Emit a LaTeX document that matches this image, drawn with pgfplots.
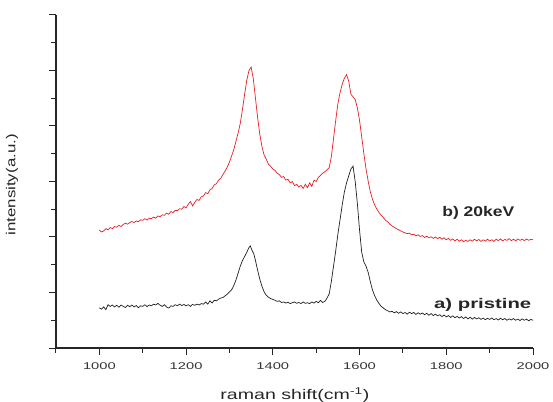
\documentclass[border=0pt]{standalone}
\usepackage{pgfplots}
\pgfplotsset{compat=1.18}
\usepackage{fontspec}
\setmainfont{Liberation Sans}
\usepackage{graphicx}
\definecolor{redline}{RGB}{228,32,36}
\definecolor{blackline}{RGB}{30,30,30}
\begin{document}
\begin{tikzpicture}
\begin{axis}[
  scale only axis, width=477pt, height=333pt,
  xmin=900, xmax=2000, ymin=0, ymax=12,
  axis lines*=left,
  axis line style={line width=1.2pt, black!85},
  every tick/.style={black!85, line width=1pt},
  tick align=outside,
  major tick length=7pt, minor tick length=4.5pt,
  xtick={1000,1200,...,2000},
  minor xtick={900,1100,1300,1500,1700,1900},
  ytick={0,2,...,12}, yticklabels={},
  minor ytick={1,3,...,11},
  /pgf/number format/assume math mode=true,
  /pgf/number format/1000 sep={},
  xticklabel={\scalebox{1.5}[1]{\pgfmathprintnumber{\tick}}},
  xticklabel style={font=\fontsize{9.8}{10}\selectfont, text=black!80, anchor=center, yshift=-11pt},
  xlabel={\scalebox{1.4}[1]{raman shift(cm\textsuperscript{-1})}},
  xlabel style={at={(axis description cs:0.501,0)}, anchor=center, yshift=-47pt, font=\fontsize{14}{15}\selectfont, text=black!85},
  ylabel={\scalebox{1.3}[1]{intensity(a.u.)}},
  ylabel style={at={(axis description cs:-0.0922,0.49)}, anchor=center, font=\fontsize{13}{14}\selectfont, text=black!85},
  clip=false,
]
\addplot[redline, line width=0.7pt] coordinates {
(1000,4.25)(1005,4.18)(1010,4.22)(1015,4.30)(1020,4.26)(1025,4.34)(1030,4.30)(1035,4.38)(1040,4.35)
(1045,4.42)(1050,4.38)(1055,4.45)(1060,4.50)(1065,4.46)(1070,4.52)(1075,4.56)(1080,4.52)(1085,4.58)
(1090,4.55)(1095,4.62)(1100,4.60)(1105,4.66)(1110,4.61)(1115,4.68)(1120,4.66)(1125,4.72)(1130,4.68)
(1135,4.76)(1140,4.73)(1145,4.80)(1150,4.78)(1155,4.86)(1160,4.82)(1165,4.92)(1170,4.88)(1175,4.96)
(1180,4.95)(1185,5.02)(1190,5.00)(1195,5.10)(1200,5.05)(1205,5.18)(1210,5.28)(1215,5.12)(1220,5.25)
(1225,5.35)(1230,5.32)(1235,5.45)(1240,5.48)(1245,5.60)(1250,5.56)(1255,5.70)(1260,5.75)(1265,5.88)
(1270,5.92)(1275,6.05)(1280,6.12)(1285,6.25)(1290,6.38)(1295,6.52)(1300,6.70)(1305,6.92)(1310,7.15)
(1315,7.45)(1320,7.75)(1325,8.10)(1330,8.60)(1335,9.15)(1340,9.65)(1345,10.00)(1350,10.12)(1355,9.70)
(1360,9.00)(1365,8.30)(1370,7.70)(1375,7.25)(1380,6.95)(1385,6.80)(1390,6.62)(1395,6.55)(1400,6.45)
(1405,6.40)(1410,6.30)(1415,6.25)(1420,6.15)(1425,6.18)(1430,6.05)(1435,6.08)(1440,5.95)(1445,6.00)
(1450,5.85)(1455,5.90)(1460,5.80)(1465,5.86)(1470,5.75)(1475,5.90)(1480,5.78)(1485,5.95)(1490,5.82)
(1495,6.05)(1500,6.00)(1505,6.15)(1510,6.22)(1515,6.30)(1520,6.35)(1525,6.42)(1530,6.50)(1535,6.90)
(1540,7.55)(1545,8.20)(1550,8.80)(1555,9.20)(1560,9.50)(1565,9.72)(1570,9.85)(1575,9.62)(1580,9.15)
(1585,9.05)(1590,8.95)(1595,8.65)(1600,8.20)(1605,7.60)(1610,7.00)(1615,6.45)(1620,6.00)(1625,5.62)
(1630,5.35)(1635,5.15)(1640,5.00)(1645,4.88)(1650,4.78)(1655,4.70)(1660,4.60)(1665,4.55)(1670,4.46)
(1675,4.40)(1680,4.35)(1685,4.30)(1690,4.26)(1695,4.22)(1700,4.18)(1705,4.15)(1710,4.12)(1715,4.14)
(1720,4.08)(1725,4.10)(1730,4.04)(1735,4.08)(1740,4.02)(1745,4.05)(1750,3.98)(1755,4.03)(1760,3.97)
(1765,4.01)(1770,3.95)(1775,4.00)(1780,3.94)(1785,3.99)(1790,3.92)(1795,3.97)(1800,3.90)(1805,3.95)
(1810,3.88)(1815,3.93)(1820,3.86)(1825,3.92)(1830,3.85)(1835,3.90)(1840,3.83)(1845,3.88)(1850,3.84)
(1855,3.90)(1860,3.85)(1865,3.92)(1870,3.86)(1875,3.91)(1880,3.84)(1885,3.90)(1890,3.85)(1895,3.92)
(1900,3.86)(1905,3.90)(1910,3.84)(1915,3.92)(1920,3.87)(1925,3.93)(1930,3.86)(1935,3.91)(1940,3.88)
(1945,3.94)(1950,3.87)(1955,3.92)(1960,3.86)(1965,3.93)(1970,3.88)(1975,3.92)(1980,3.87)(1985,3.93)
(1990,3.88)(1995,3.92)(2000,3.90)
};
\addplot[blackline, line width=0.7pt] coordinates {
(1000,1.45)(1005,1.40)(1010,1.48)(1015,1.38)(1020,1.56)(1025,1.50)(1030,1.55)(1035,1.48)(1040,1.54)
(1045,1.47)(1050,1.55)(1055,1.50)(1060,1.46)(1065,1.54)(1070,1.49)(1075,1.55)(1080,1.48)(1085,1.53)
(1090,1.45)(1095,1.52)(1100,1.50)(1105,1.56)(1110,1.49)(1115,1.55)(1120,1.52)(1125,1.58)(1130,1.55)
(1135,1.61)(1140,1.54)(1145,1.50)(1150,1.56)(1155,1.48)(1160,1.44)(1165,1.52)(1170,1.50)(1175,1.56)
(1180,1.52)(1185,1.58)(1190,1.53)(1195,1.57)(1200,1.52)(1205,1.56)(1210,1.50)(1215,1.57)(1220,1.54)
(1225,1.58)(1230,1.55)(1235,1.60)(1240,1.58)(1245,1.66)(1250,1.58)(1255,1.70)(1260,1.62)(1265,1.72)
(1270,1.70)(1275,1.76)(1280,1.80)(1285,1.82)(1290,1.88)(1295,1.94)(1300,2.02)(1305,2.10)(1310,2.25)
(1315,2.45)(1320,2.70)(1325,2.95)(1330,3.15)(1335,3.30)(1340,3.45)(1345,3.62)(1348,3.68)(1352,3.52)
(1356,3.40)(1360,3.15)(1365,2.80)(1370,2.48)(1375,2.22)(1380,2.02)(1385,1.90)(1390,1.83)(1395,1.78)
(1400,1.75)(1405,1.72)(1410,1.68)(1415,1.70)(1420,1.64)(1425,1.66)(1430,1.62)(1435,1.65)(1440,1.60)
(1445,1.63)(1450,1.66)(1455,1.61)(1460,1.64)(1465,1.60)(1470,1.66)(1475,1.61)(1480,1.63)(1485,1.60)
(1490,1.66)(1495,1.62)(1500,1.68)(1505,1.63)(1510,1.72)(1515,1.64)(1520,1.68)(1525,1.80)(1530,1.95)
(1535,2.40)(1540,2.95)(1545,3.50)(1550,4.10)(1555,4.62)(1560,5.15)(1565,5.62)(1570,5.95)(1575,6.20)
(1580,6.45)(1585,6.55)(1590,6.00)(1595,5.20)(1600,4.25)(1605,3.45)(1610,3.10)(1615,2.95)(1620,2.72)
(1625,2.38)(1630,2.08)(1635,1.88)(1640,1.72)(1645,1.60)(1650,1.50)(1655,1.44)(1660,1.38)(1665,1.34)
(1670,1.30)(1675,1.32)(1680,1.27)(1685,1.31)(1690,1.25)(1695,1.30)(1700,1.24)(1705,1.28)(1710,1.22)
(1715,1.29)(1720,1.24)(1725,1.28)(1730,1.21)(1735,1.27)(1740,1.22)(1745,1.26)(1750,1.20)(1755,1.25)
(1760,1.18)(1765,1.24)(1770,1.17)(1775,1.22)(1780,1.16)(1785,1.20)(1790,1.13)(1795,1.19)(1800,1.12)
(1805,1.17)(1810,1.10)(1815,1.16)(1820,1.09)(1825,1.14)(1830,1.08)(1835,1.13)(1840,1.06)(1845,1.12)
(1850,1.05)(1855,1.11)(1860,1.04)(1865,1.10)(1870,1.05)(1875,1.09)(1880,1.03)(1885,1.08)(1890,1.02)
(1895,1.07)(1900,1.03)(1905,1.08)(1910,1.02)(1915,1.06)(1920,1.01)(1925,1.07)(1930,1.02)(1935,1.06)
(1940,1.00)(1945,1.05)(1950,1.01)(1955,1.06)(1960,1.00)(1965,1.04)(1970,0.99)(1975,1.05)(1980,1.00)
(1985,1.04)(1990,0.98)(1995,1.03)(2000,1.00)
};
\node[anchor=base east, font=\bfseries\fontsize{14}{15}\selectfont, text=black!85] at (axis cs:1965,4.73) {\scalebox{1.25}[1]{b) 20keV}};
\node[anchor=base east, font=\bfseries\fontsize{14}{15}\selectfont, text=black!85] at (axis cs:2004,1.43) {\scalebox{1.45}[1]{a) pristine}};
\end{axis}
\pgfresetboundingbox
\path[use as bounding box] ([xshift=-56pt,yshift=-53pt]current axis.south west) rectangle ++(553pt,401pt);
\end{tikzpicture}
\end{document}
